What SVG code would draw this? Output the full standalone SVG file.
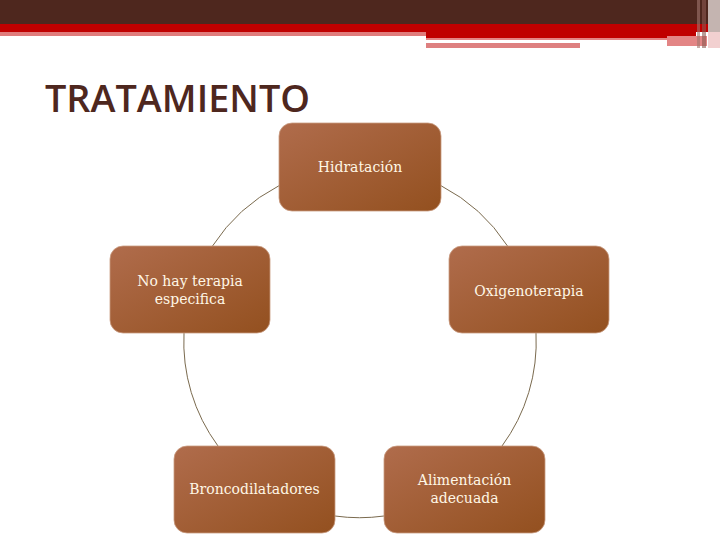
<svg xmlns="http://www.w3.org/2000/svg" width="720" height="540" viewBox="0 0 720 540">
<defs>
<linearGradient id="g" x1="0" y1="0" x2="1" y2="1">
<stop offset="0" stop-color="#B06C4C"/>
<stop offset="1" stop-color="#93501F"/>
</linearGradient>
<style>
.node{fill:url(#g);stroke:#C99C82;stroke-width:0.8}
.lbl{font-family:"DejaVu Serif","Liberation Serif",serif;font-size:14px;fill:#FFF7E6;text-anchor:middle}
.arc{fill:none;stroke:#7A6A4E;stroke-width:1}
</style>
</defs>
<rect width="720" height="540" fill="#FFFFFF"/>
<g id="header">
<rect x="0" y="0" width="720" height="24" fill="#4E271E"/>
<rect x="0" y="24" width="720" height="8" fill="#C00000"/>
<rect x="0" y="32" width="426" height="4" fill="#E07C7C"/>
<rect x="426" y="32" width="270" height="6" fill="#C00000"/>
<rect x="426" y="38" width="241" height="2" fill="#E38585"/>
<rect x="667" y="36" width="40" height="10" fill="#E38585"/>
<rect x="426" y="43" width="154" height="5" fill="#DE8080"/>
<rect x="697" y="0" width="3" height="48" fill="#A0766E" opacity="0.6"/>
<rect x="702" y="0" width="4" height="48" fill="#8A5850" opacity="0.6"/>
<rect x="708" y="0" width="12" height="32" fill="#C4B4B0"/>
<rect x="708" y="32" width="12" height="16" fill="#F2D0D0"/>
</g>
<text id="title" x="45" y="112" font-family="'Open Sans','Liberation Sans',Arial,sans-serif" font-size="37" font-weight="600" fill="#4E271E" textLength="265" lengthAdjust="spacingAndGlyphs">TRATAMIENTO</text>
<g id="connectors">
<path class="arc" d="M441,185.7 A176,176 0 0 1 507.5,246"/>
<path class="arc" d="M536,333 A176,176 0 0 1 502,446"/>
<path class="arc" d="M384,516 A176,176 0 0 1 335,516"/>
<path class="arc" d="M218,446 A176,176 0 0 1 184,333"/>
<path class="arc" d="M212.5,246 A176,176 0 0 1 279,185.7"/>
</g>
<g id="n-hidratacion">
<rect class="node" x="279" y="123" width="162" height="88" rx="13"/>
<text class="lbl" x="360" y="172">Hidratación</text>
</g>
<g id="n-oxigenoterapia">
<rect class="node" x="449" y="246" width="160" height="87" rx="13"/>
<text class="lbl" x="529" y="296">Oxigenoterapia</text>
</g>
<g id="n-alimentacion">
<rect class="node" x="384" y="446" width="161" height="87" rx="13"/>
<text class="lbl" x="464.5" y="485">Alimentación</text>
<text class="lbl" x="464.5" y="503">adecuada</text>
</g>
<g id="n-broncodilatadores">
<rect class="node" x="174" y="446" width="161" height="87" rx="13"/>
<text class="lbl" x="254.5" y="494">Broncodilatadores</text>
</g>
<g id="n-noterapia">
<rect class="node" x="110" y="246" width="160" height="87" rx="13"/>
<text class="lbl" x="190" y="286">No hay terapia</text>
<text class="lbl" x="190" y="304">especifica</text>
</g>
</svg>
